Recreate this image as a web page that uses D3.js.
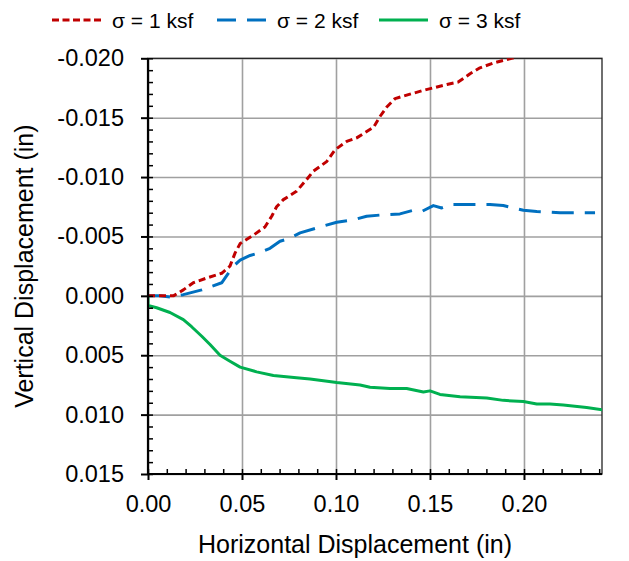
<!DOCTYPE html>
<html><head><meta charset="utf-8">
<script src="https://cdn.jsdelivr.net/npm/d3@7"></script>
<style>
body{margin:0;background:#fff;}
svg{display:block;font-family:"Liberation Sans",Arial,sans-serif;}
</style></head>
<body><svg id="c" width="629" height="561"></svg>
<script>
const seriesNames = ["σ = 1 ksf", "σ = 2 ksf", "σ = 3 ksf"];
const seriesColors = ["#C00000", "#0070C0", "#00B050"];
const xTicks = [0, 0.05, 0.10, 0.15, 0.20];
const yTicks = [-0.020, -0.015, -0.010, -0.005, 0.000, 0.005, 0.010, 0.015];

const s1X = [0, 0.0135, 0.0188, 0.0241, 0.0312, 0.0392, 0.0436, 0.0463, 0.049, 0.056, 0.0622, 0.0658, 0.0684, 0.072, 0.079, 0.0844, 0.088, 0.095, 0.0995, 0.1057, 0.111, 0.12, 0.1234, 0.127, 0.1314, 0.1376, 0.1465, 0.159, 0.165, 0.1713, 0.1766, 0.1837, 0.1908, 0.196, 0.2];
const s1Y = [0, 0.0000, -0.0005, -0.0011, -0.0015, -0.0019, -0.0025, -0.0036, -0.0044, -0.0051, -0.0058, -0.0067, -0.0075, -0.0081, -0.0088, -0.0098, -0.0105, -0.0113, -0.0123, -0.0130, -0.0133, -0.0142, -0.0151, -0.0159, -0.0166, -0.0169, -0.0173, -0.0178, -0.0180, -0.0187, -0.0192, -0.0196, -0.0199, -0.0201, -0.0203];

const s2X = [0, 0.0064, 0.0117, 0.0188, 0.0286, 0.0339, 0.0392, 0.0427, 0.0454, 0.049, 0.0543, 0.0587, 0.0649, 0.0702, 0.0746, 0.0809, 0.0915, 0.1004, 0.1092, 0.1163, 0.1234, 0.134, 0.1411, 0.1456, 0.1518, 0.1562, 0.1615, 0.1695, 0.1819, 0.189, 0.1997, 0.2068, 0.2192, 0.2254, 0.2378];
const s2Y = [0, 0.0000, 0.0001, -0.0001, -0.0005, -0.0008, -0.0011, -0.0019, -0.0025, -0.0030, -0.0034, -0.0036, -0.0040, -0.0046, -0.0048, -0.0053, -0.0058, -0.0062, -0.0064, -0.0067, -0.0068, -0.0069, -0.0072, -0.0071, -0.0076, -0.0074, -0.0077, -0.0077, -0.0077, -0.0076, -0.0072, -0.0071, -0.0070, -0.0070, -0.0070];

const s3X = [0, 0, 0.0046, 0.0117, 0.0188, 0.0232, 0.0286, 0.033, 0.0383, 0.0436, 0.049, 0.0578, 0.0667, 0.079, 0.0862, 0.1004, 0.1128, 0.1181, 0.1287, 0.1376, 0.1465, 0.15, 0.1553, 0.166, 0.1802, 0.189, 0.1997, 0.2068, 0.2138, 0.2209, 0.2333, 0.2422];
const s3Y = [0, 0.0008, 0.0010, 0.0014, 0.0020, 0.0026, 0.0034, 0.0041, 0.0050, 0.0055, 0.0060, 0.0064, 0.0067, 0.0069, 0.0070, 0.0073, 0.0075, 0.0077, 0.0078, 0.0078, 0.0081, 0.0080, 0.0083, 0.0085, 0.0086, 0.0088, 0.0089, 0.0091, 0.0091, 0.0092, 0.0094, 0.0096];

const seriesX = [s1X, s2X, s3X];
const seriesY = [s1Y, s2Y, s3Y];
const dashes = ["7,4", "22,11", null];

const L = 148, R = 602, T = 58.3, B = 474;
const svg = d3.select("#c");
const x = d3.scaleLinear().domain([0, 0.2415]).range([L, R]);
const y = d3.scaleLinear().domain([-0.020, 0.015]).range([T, B]);

const xMinor = d3.range(0, 25).map(i => i * 0.01);
const yMinor = d3.range(0, 36).map(i => -0.020 + i * 0.001);

// gridlines
svg.append("g").attr("transform", `translate(0,${B})`)
  .call(d3.axisBottom(x).tickValues(xTicks).tickSize(-(B - T)).tickFormat(""))
  .call(g => g.select(".domain").remove())
  .selectAll("line").attr("stroke", "#a0a0a0").attr("stroke-width", 1.6);
svg.append("g").attr("transform", `translate(${L},0)`)
  .call(d3.axisLeft(y).tickValues(yTicks).tickSize(-(R - L)).tickFormat(""))
  .call(g => g.select(".domain").remove())
  .selectAll("line").attr("stroke", "#a0a0a0").attr("stroke-width", 1.6);

// plot border
svg.append("rect").attr("x", L).attr("y", T).attr("width", R - L).attr("height", B - T)
  .attr("fill", "none").attr("stroke", "#222").attr("stroke-width", 1.3);

// clip
svg.append("clipPath").attr("id", "clip").append("rect")
  .attr("x", L).attr("y", T).attr("width", R - L).attr("height", B - T);

const line = d3.line().x(d => x(d[0])).y(d => y(d[1]));
const lg = svg.append("g").attr("clip-path", "url(#clip)");
[2, 1, 0].forEach(k => {
  const pts = seriesX[k].map((v, i) => [v, seriesY[k][i]]);
  const p = lg.append("path").datum(pts).attr("d", line)
    .attr("fill", "none").attr("stroke", seriesColors[k]).attr("stroke-width", 3)
    .attr("stroke-linejoin", "round");
  if (dashes[k]) p.attr("stroke-dasharray", dashes[k]);
});

const fmtY = v => (Math.abs(v) < 1e-9 ? "0.000" : (v < 0 ? "-" : "") + Math.abs(v).toFixed(3));
const fmtX = v => v.toFixed(2);

// axes
const ax = svg.append("g").attr("transform", `translate(0,${B})`)
  .call(d3.axisBottom(x).tickValues(xTicks).tickSize(6).tickPadding(15).tickFormat(fmtX));
ax.select(".domain").remove();
ax.selectAll("line").attr("stroke", "#000").attr("stroke-width", 2);
ax.selectAll("text").attr("font-size", 23.5).attr("fill", "#000").attr("font-family", "Liberation Sans, Arial, sans-serif");
svg.append("g").attr("transform", `translate(0,${B})`)
  .call(d3.axisBottom(x).tickValues(xMinor).tickSize(-5).tickFormat(""))
  .call(g => g.select(".domain").remove())
  .selectAll("line").attr("stroke", "#000").attr("stroke-width", 1.5);

const ay = svg.append("g").attr("transform", `translate(${L},0)`)
  .call(d3.axisLeft(y).tickValues(yTicks).tickSize(7).tickPadding(17).tickFormat(fmtY));
ay.select(".domain").remove();
ay.selectAll("line").attr("stroke", "#000").attr("stroke-width", 2);
ay.selectAll("text").attr("font-size", 23.5).attr("fill", "#000").attr("font-family", "Liberation Sans, Arial, sans-serif");
svg.append("g").attr("transform", `translate(${L},0)`)
  .call(d3.axisLeft(y).tickValues(yMinor).tickSize(-5).tickFormat(""))
  .call(g => g.select(".domain").remove())
  .selectAll("line").attr("stroke", "#000").attr("stroke-width", 1.5);

svg.append("line").attr("x1", L).attr("x2", R).attr("y1", B).attr("y2", B).attr("stroke", "#000").attr("stroke-width", 2.2);
svg.append("line").attr("x1", L).attr("x2", L).attr("y1", T).attr("y2", B).attr("stroke", "#000").attr("stroke-width", 2.2);

// titles
svg.append("text").attr("x", 355).attr("y", 553).attr("text-anchor", "middle")
  .attr("font-size", 25).text("Horizontal Displacement (in)");
svg.append("text").attr("transform", `translate(33,${(T + B) / 2}) rotate(-90)`).attr("text-anchor", "middle")
  .attr("font-size", 25).text("Vertical Displacement (in)");

// legend
const legX = [52, 217, 379];
seriesNames.forEach((n, k) => {
  const g = svg.append("g");
  const l = g.append("line").attr("x1", legX[k]).attr("x2", legX[k] + 49).attr("y1", 20).attr("y2", 20)
    .attr("stroke", seriesColors[k]).attr("stroke-width", 3);
  if (dashes[k]) l.attr("stroke-dasharray", k === 0 ? "7,3.5" : "19,11");
  g.append("text").attr("x", legX[k] + 60).attr("y", 28).attr("font-size", 21).text(n);
});
</script></body></html>
